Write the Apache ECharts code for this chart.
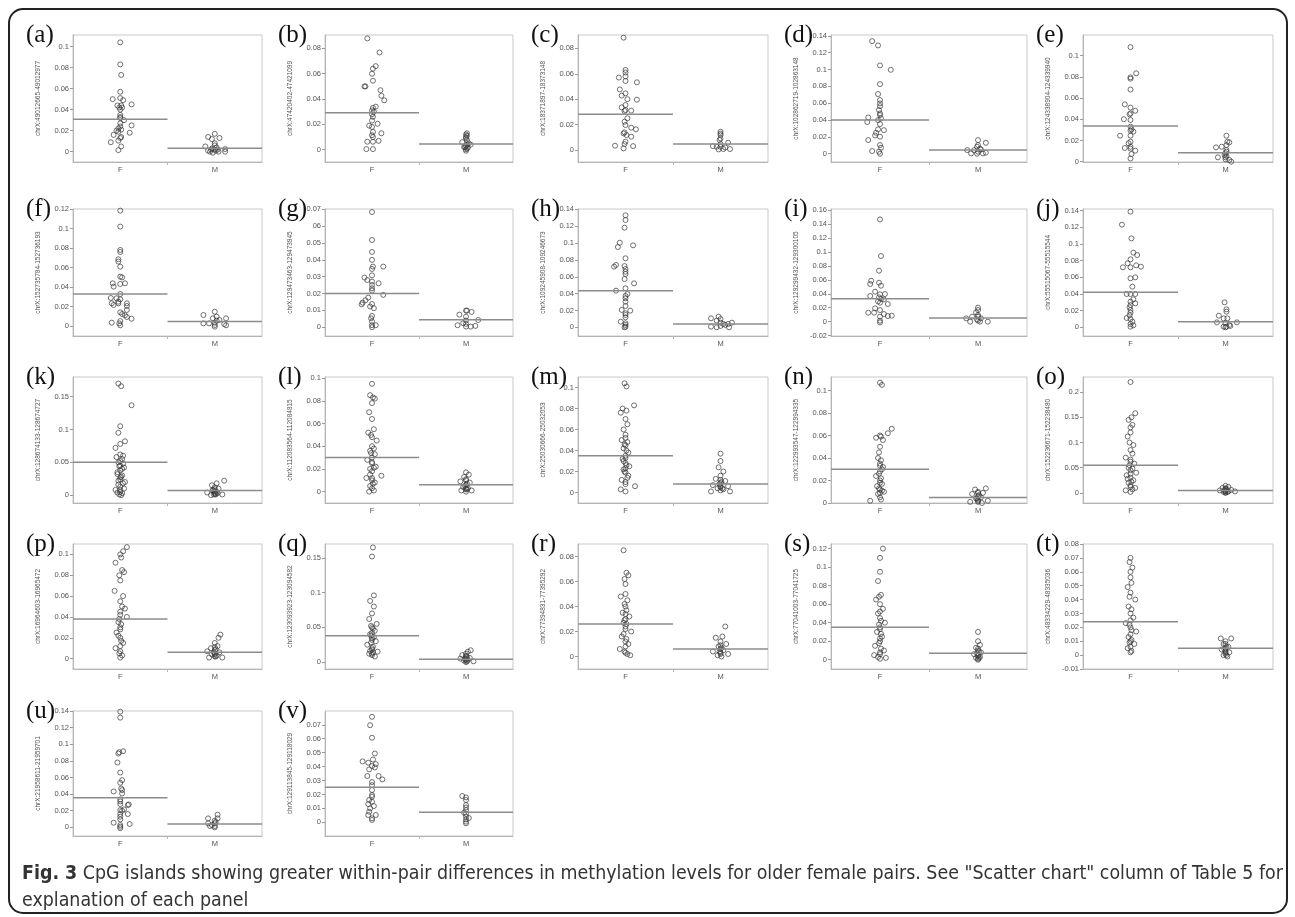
<!DOCTYPE html>
<html><head><meta charset="utf-8">
<script src="https://cdn.jsdelivr.net/npm/echarts@6/dist/echarts.min.js"></script>
<style>html,body{margin:0;padding:0;background:#fff}#c{width:1295px;height:917px}</style>
</head><body><div id="c"></div><script>
const categories = ['F', 'M'];
const panelLabels = ['(a)','(b)','(c)','(d)','(e)','(f)','(g)','(h)','(i)','(j)','(k)','(l)','(m)','(n)','(o)','(p)','(q)','(r)','(s)','(t)','(u)','(v)'];
const yTitles = ['chrX:49012665-49012977','chrX:47420402-47421099','chrX:18371897-18373148','chrX:102862719-102863148','chrX:124338904-124339940',
 'chrX:152735784-152736193','chrX:129473463-129473945','chrX:109245908-109246673','chrX:129299432-129300105','chrX:55515067-55515544',
 'chrX:128674133-128674727','chrX:112083564-112084815','chrX:25030666-25032053','chrX:122993547-122994335','chrX:152236671-152238480',
 'chrX:16964603-16965472','chrX:123093923-123094582','chrX:77394831-77395292','chrX:77041003-77041725','chrX:48334229-48335036',
 'chrX:21958611-21959701','chrX:129113845-129118029'];
const yTicks = [
 [0,0.02,0.04,0.06,0.08,0.1],[0,0.02,0.04,0.06,0.08],[0,0.02,0.04,0.06,0.08],[0,0.02,0.04,0.06,0.08,0.1,0.12,0.14],[0,0.02,0.04,0.06,0.08,0.1,0.12],
 [0,0.02,0.04,0.06,0.08,0.1,0.12],[0,0.01,0.02,0.03,0.04,0.05,0.06,0.07],[0,0.02,0.04,0.06,0.08,0.1,0.12,0.14],[-0.02,0,0.02,0.04,0.06,0.08,0.1,0.12,0.14,0.16],[0,0.02,0.04,0.06,0.08,0.1,0.12,0.14],
 [0,0.05,0.1,0.15],[0,0.02,0.04,0.06,0.08,0.1],[0,0.02,0.04,0.06,0.08,0.1],[0,0.02,0.04,0.06,0.08,0.1],[0,0.05,0.1,0.15,0.2],
 [0,0.02,0.04,0.06,0.08,0.1],[0,0.05,0.1,0.15],[0,0.02,0.04,0.06,0.08],[0,0.02,0.04,0.06,0.08,0.1,0.12],[-0.01,0,0.01,0.02,0.03,0.04,0.05,0.06,0.07,0.08],
 [0,0.02,0.04,0.06,0.08,0.1,0.12,0.14],[-0.01,0,0.01,0.02,0.03,0.04,0.05,0.06,0.07,0.08]];
// tick label text as printed in the figure where it differs from the number
const tickTextOverrides = {6: {'0.06': '06'}};
const yRanges = [
 [-0.0098,0.111],[-0.0097,0.0906],[-0.0094,0.0905],[-0.0098,0.1409],[-0.0003,0.1194],
 [-0.0103,0.1203],[-0.0052,0.0702],[-0.0103,0.1404],[-0.0205,0.1615],[-0.0104,0.142],
 [-0.012,0.18],[-0.01,0.101],[-0.01,0.11],[0,0.112],[-0.02,0.23],
 [-0.01,0.11],[-0.01,0.17],[-0.01,0.09],[-0.01,0.125],[-0.01,0.08],
 [-0.0104,0.14],[-0.0098,0.0799]];
const meanF = [0.0308,0.0292,0.0281,0.040,0.0336,0.0329,0.020,0.0435,0.033,0.042,0.05,0.03,0.035,0.03,0.055,0.038,0.038,0.026,0.035,0.024,0.0356,0.0251];
const meanM = [0.0032,0.0045,0.0047,0.0043,0.0085,0.0045,0.0044,0.004,0.0053,0.0068,0.007,0.006,0.008,0.005,0.005,0.006,0.004,0.006,0.007,0.005,0.004,0.0072];
const femalePts = [
 [[0,.104],[0,.083],[.01,.073],[0,.057],[-.08,.050],[0,.051],[.03,.049],[-.03,.044],[.01,.044],[.12,.045],[-.01,.042],[.02,.042],[0,.040],[0,.035],[0,.033],[0,.032],[.04,.030],[0,.027],[0,.024],[.12,.025],[-.02,.022],[.01,.021],[-.04,.020],[-.02,.019],[.1,.018],[-.07,.016],[.01,.014],[0,.013],[-.02,.0105],[-.1,.009],[.01,.005],[-.02,.0015]],
 [[-.05,.0879],[.08,.0768],[.04,.066],[.01,.064],[0,.060],[.01,.0545],[-.08,.050],[-.07,.050],[.09,.047],[.1,.0426],[.13,.039],[.04,.034],[.01,.033],[0,.031],[.02,.030],[0,.028],[.01,.026],[0,.023],[-.03,.019],[.06,.0205],[0,.018],[.01,.014],[.1,.013],[0,.0115],[.01,.010],[-.05,.0063],[.01,.0063],[.07,.007],[-.06,.0005],[.01,.0005]],
 [[-.02,.0884],[0,.063],[0,.061],[-.07,.057],[0,.058],[0,.0543],[.12,.0533],[-.06,.0477],[0,.0446],[-.04,.0428],[.02,.040],[.12,.0396],[0,.0354],[-.04,.0336],[0,.0315],[-.01,.0307],[.06,.031],[.02,.025],[-.01,.0223],[0,.0197],[.06,.0176],[.11,.0163],[-.01,.0139],[-.02,.0131],[.01,.0118],[.06,.0105],[0,.0066],[-.01,.0047],[-.11,.0034],[.08,.0031],[-.02,.0013]],
 [[-.08,.1336],[-.02,.1285],[0,.1048],[.11,.0996],[0,.0826],[-.02,.0708],[0,.0637],[0,.0597],[0,.0565],[-.01,.0518],[0,.0478],[0,.0459],[-.12,.0431],[-.13,.0376],[-.02,.0399],[.01,.042],[0,.0352],[-.02,.0289],[.04,.028],[-.04,.0249],[-.05,.0217],[0,.0202],[-.12,.0162],[0,.0103],[.01,.0071],[-.08,.0032],[-.01,.0024],[0,0]],
 [[0,.108],[0,.0795],[0,.0782],[.06,.0833],[0,.068],[-.06,.054],[0,.051],[.05,.048],[0,.0455],[-.01,.0446],[-.07,.040],[0,.0393],[0,.033],[.01,.0305],[0,.0292],[.03,.0283],[0,.0245],[-.11,.0245],[0,.0188],[-.02,.0173],[-.06,.0129],[0,.0123],[.05,.0104],[.01,.0072],[0,.003],[0,.0141]],
 [[0,.1186],[0,.1022],[0,.0782],[0,.0761],[-.02,.0686],[-.02,.0662],[0,.061],[0,.0507],[.02,.050],[-.08,.0439],[-.07,.0405],[.05,.0439],[0,.0432],[0,.0329],[-.1,.0288],[-.04,.0285],[0,.0274],[-.02,.025],[-.07,.0216],[-.02,.0233],[.07,.0233],[.07,.0206],[-.09,.0233],[.07,.0165],[0,.0141],[.02,.0123],[.05,.011],[.07,.0093],[.12,.0075],[-.09,.0034],[0,.0051],[0,.0007],[-.01,.0027]],
 [[0,.0684],[0,.0518],[0,.0447],[0,.040],[.01,.036],[0,.0346],[.12,.036],[-.08,.0295],[-.05,.028],[0,.0308],[0,.0271],[.07,.0261],[0,.0251],[0,.0231],[0,.0218],[.12,.0192],[-.04,.0176],[-.07,.016],[-.11,.0136],[-.1,.0146],[0,.0138],[-.02,.0123],[.02,.0113],[0,.0067],[-.01,.0053],[0,.0034],[0,.0012],[.04,.0012],[0,0]],
 [[0,.1329],[0,.1273],[-.01,.1182],[-.06,.1004],[-.08,.0953],[.08,.0973],[0,.0819],[-.12,.072],[-.1,.074],[-.01,.0727],[0,.0692],[0,.066],[0,.0633],[-.01,.0573],[.09,.0522],[-.1,.0435],[0,.0463],[.02,.0395],[0,.0372],[0,.0344],[0,.0304],[0,.0253],[-.04,.0206],[.05,.0198],[0,.0166],[0,.0146],[0,.0119],[-.05,.0067],[0,.0047],[0,.0028],[0,.0008],[-.01,0]],
 [[0,.1466],[.01,.0941],[-.01,.0731],[-.09,.0587],[-.1,.054],[-.01,.0559],[.01,.0516],[-.1,.0368],[-.05,.043],[0,.0392],[.05,.0396],[-.01,.0349],[.01,.0325],[-.02,.0291],[0,.0272],[.08,.0253],[-.05,.0191],[0,.0167],[-.12,.0129],[-.06,.0129],[.04,.011],[.08,.0081],[.12,.0086],[0,.0072],[0,.0014],[0,-.001],[.04,.032]],
 [[0,.1388],[-.09,.1232],[.01,.1068],[.03,.0896],[.07,.0868],[0,.0816],[-.08,.072],[-.03,.0768],[0,.072],[.06,.0744],[.11,.0728],[0,.0588],[.05,.06],[.02,.0488],[-.04,.04],[0,.04],[.05,.04],[.03,.0336],[.05,.0288],[0,.0308],[0,.0268],[-.01,.024],[0,.0208],[0,.0176],[-.01,.0144],[-.04,.0112],[0,.01],[.02,.0068],[0,.004],[0,.0008],[.03,.0024]],
 [[-.02,.170],[.01,.166],[.12,.137],[0,.105],[-.02,.095],[.05,.082],[0,.078],[-.05,.072],[0,.062],[-.04,.058],[.02,.055],[0,.052],[-.02,.050],[.03,.048],[0,.045],[.04,.042],[0,.038],[-.03,.035],[.02,.030],[0,.027],[0,.024],[.05,.02],[-.02,.016],[0,.013],[.04,.01],[-.05,.008],[0,.005],[.02,.003],[-.01,.001],[.03,.06],[-.01,.044],[.02,.04],[-.03,.032],[.01,.028],[-.02,.022],[.03,.018],[0,.008],[-.03,.004],[.01,0]],
 [[0,.095],[-.02,.085],[.03,.082],[0,.078],[-.03,.070],[0,.064],[.02,.055],[-.04,.052],[0,.048],[.05,.045],[0,.040],[-.02,.036],[.03,.033],[0,.030],[-.05,.028],[0,.025],[.04,.022],[-.02,.02],[0,.018],[.1,.014],[-.06,.012],[0,.010],[.03,.008],[-.02,.005],[0,.003],[.02,.001],[-.03,0],[.01,.083],[-.01,.05],[.02,.038],[-.01,.034],[0,.026],[.02,.021],[-.02,.015],[0,.012],[.01,.007]],
 [[-.01,.104],[.01,.101],[.09,.083],[-.03,.080],[-.05,.076],[0,.07],[.02,.065],[-.02,.06],[0,.055],[-.04,.05],[.02,.048],[0,.045],[-.02,.042],[.03,.038],[0,.035],[-.03,.032],[0,.028],[.04,.025],[-.02,.022],[0,.019],[.03,.016],[-.04,.012],[0,.01],[.1,.006],[-.05,.003],[0,.001],[.01,.078],[0,.052],[-.01,.046],[.01,.04],[0,.033],[-.02,.03],[.01,.026],[0,.023],[-.01,.02],[.02,.014],[0,.008]],
 [[0,.107],[.02,.105],[.12,.066],[.08,.062],[0,.06],[-.04,.058],[.03,.056],[0,.05],[-.02,.04],[0,.035],[.03,.032],[0,.028],[-.04,.024],[0,.02],[.02,.017],[-.03,.015],[0,.012],[.04,.01],[-.02,.008],[0,.005],[-.1,.002],[.01,.059],[-.01,.045],[.01,.038],[0,.033],[.02,.03],[-.01,.026],[.01,.022],[0,.018],[-.01,.013],[.02,.011],[0,.009],[.01,.003]],
 [[0,.22],[.05,.158],[-.02,.145],[.02,.135],[0,.12],[-.03,.112],[.03,.095],[0,.085],[-.05,.07],[0,.062],[.04,.058],[-.02,.05],[0,.045],[.06,.04],[-.04,.035],[0,.03],[.03,.025],[-.02,.02],[0,.015],[.05,.01],[-.05,.005],[0,.002],[.01,.15],[0,.13],[-.01,.1],[.02,.078],[0,.066],[-.01,.055],[.02,.048],[0,.038],[-.03,.028],[.01,.022],[0,.012],[.02,.007]],
 [[.07,.107],[.03,.103],[.01,.097],[-.05,.092],[.02,.085],[.04,.083],[0,.075],[-.06,.065],[.03,.06],[0,.055],[.05,.048],[0,.045],[.07,.04],[-.02,.035],[0,.03],[-.04,.025],[0,.02],[.03,.015],[-.05,.01],[0,.007],[.02,.003],[0,.001],[0,.1],[-.01,.08],[.02,.05],[0,.042],[-.01,.038],[.01,.033],[0,.028],[-.02,.022],[.01,.017],[0,.012],[-.01,.005]],
 [[.01,.165],[0,.152],[.02,.096],[-.02,.088],[.02,.08],[0,.07],[-.03,.062],[.05,.055],[0,.05],[.03,.045],[-.02,.04],[0,.035],[.04,.03],[-.05,.025],[0,.02],[.06,.015],[-.03,.012],[0,.01],[.03,.008],[-.01,.052],[.01,.048],[0,.042],[-.01,.038],[.02,.036],[0,.032],[-.01,.028],[.01,.022],[0,.018],[-.02,.016],[.01,.014],[0,.012]],
 [[-.02,.085],[.01,.067],[.03,.065],[-.01,.062],[0,.058],[-.05,.048],[.02,.045],[0,.04],[-.03,.035],[.04,.032],[0,.03],[-.02,.027],[0,.024],[.06,.02],[-.04,.016],[0,.012],[.03,.01],[-.06,.006],[0,.003],[.05,.001],[0,.05],[-.01,.042],[.01,.037],[0,.034],[-.01,.029],[.01,.026],[0,.022],[-.02,.018],[.01,.014],[0,.008],[-.01,.004],[.02,.002]],
 [[.03,.12],[0,.11],[0,.095],[-.02,.085],[.01,.07],[-.04,.065],[0,.06],[.03,.055],[-.02,.05],[0,.045],[.05,.04],[0,.035],[-.03,.03],[.02,.025],[0,.02],[-.05,.015],[.04,.01],[0,.008],[-.06,.005],[.06,.002],[0,.001],[-.01,.068],[0,.052],[.01,.042],[-.01,.038],[0,.033],[.01,.028],[0,.023],[-.01,.018],[.01,.012],[0,.006],[-.02,.003]],
 [[0,.07],[-.01,.067],[.02,.063],[0,.056],[-.03,.049],[0,.045],[.05,.04],[-.02,.035],[0,.03],[.03,.027],[-.05,.023],[0,.02],[.06,.017],[-.02,.013],[0,.01],[.04,.008],[-.03,.005],[0,.002],[0,.06],[.01,.052],[-.01,.042],[.01,.033],[0,.025],[-.01,.022],[.01,.018],[0,.015],[.01,.011],[-.01,.009],[0,.006],[.01,.003]],
 [[0,.1392],[0,.132],[-.01,.0904],[.03,.0916],[-.02,.0888],[-.03,.078],[0,.066],[.02,.0568],[0,.0536],[.01,.0468],[-.07,.0432],[.02,.0448],[.02,.0408],[0,.0336],[0,.0312],[0,.028],[.08,.0268],[.09,.0276],[.04,.0216],[0,.0208],[.02,.02],[0,.016],[.08,.016],[0,.0128],[0,.0096],[-.07,.0056],[.1,.004],[0,.0028],[0,.0008],[0,-.001]],
 [[0,.0757],[-.02,.0697],[0,.0607],[.03,.0494],[-.1,.0437],[-.04,.0428],[.01,.0451],[.04,.0418],[0,.0404],[-.03,.038],[.03,.0394],[-.05,.0332],[.07,.0332],[.11,.0308],[0,.0289],[0,.0267],[0,.0232],[0,.0196],[-.03,.016],[-.04,.0131],[.02,.0117],[-.02,.01],[-.03,.0076],[-.04,.0053],[.04,.0053],[0,.0029],[0,.0017],[0,.0184],[0,.0148]]
];
const malePts = [
 [[0,.017],[-.07,.014],[.05,.013],[-.03,.012],[0,.008],[0,.006],[-.1,.005],[-.03,.003],[0,.002],[.01,.001],[-.07,.001],[.11,.0025],[.11,0],[-.02,-.001],[.04,0],[-.04,.002],[.02,.004],[-.05,0],[.03,.002]],
 [[.01,.013],[.01,.011],[0,.009],[-.04,.006],[.03,.005],[0,.003],[-.01,.002],[.05,.004],[0,.0003],[.02,.0016],[0,-.0008],[.01,.0077],[0,.012],[0,.010],[.01,.004],[-.02,.002],[.01,.001]],
 [[0,.0144],[0,.013],[0,.0118],[0,.0092],[-.01,.0079],[.08,.0058],[-.08,.0031],[-.04,.0026],[0,.0026],[.03,.0008],[.1,.0008],[-.02,.0005],[0,.0047],[.05,.002]],
 [[0,.0162],[.08,.013],[0,.0103],[-.01,.0083],[-.11,.0043],[-.04,.0043],[.03,.005],[0,.0024],[.05,.0004],[.08,.0012],[-.07,.0004],[-.01,0],[.02,.006]],
 [[.01,.0245],[.02,.0188],[-.1,.0135],[-.04,.0141],[.01,.0157],[.04,.0182],[.01,.0094],[.01,.0053],[-.08,.0041],[0,.0041],[0,.0022],[.04,.0016],[.06,0],[.01,.011],[0,.008],[-.01,.0063]],
 [[0,.0147],[-.12,.0113],[.02,.0096],[-.02,.0079],[-.12,.0027],[-.06,.0027],[0,.0034],[0,.001],[.12,.0079],[.05,.0062],[.1,.002],[.12,.0007],[0,-.0007],[.02,.0055]],
 [[0,.0099],[.01,.0099],[.06,.0091],[-.07,.0075],[0,.0063],[0,.004],[.13,.0043],[-.09,.0012],[0,.002],[0,.0004],[.1,.0008],[.05,.0004],[-.03,.0024]],
 [[-.02,.0127],[-.1,.0107],[0,.0099],[-.04,.0079],[0,.0055],[.03,.004],[-.1,.0008],[-.04,0],[0,.0016],[.08,.004],[.12,.0055],[.09,0],[.05,.0028]],
 [[0,.0201],[0,.0167],[-.02,.0134],[-.06,.0072],[-.12,.0048],[0,.0072],[-.08,0],[0,.0014],[.02,0],[.1,0],[.03,.0048],[0,.0096],[-.01,.0033]],
 [[-.01,.03],[.01,.0216],[.01,.0188],[-.07,.014],[-.02,.0108],[.02,.0108],[-.09,.006],[0,.0048],[.04,.0028],[.12,.006],[.01,.0008],[-.02,.0008],[.05,.0016],[0,0]],
 [[.1,.022],[.02,.018],[-.03,.015],[0,.012],[.04,.01],[-.02,.008],[0,.006],[-.08,.004],[.03,.003],[0,.002],[.08,.001],[-.04,0],[.01,.001],[0,.009],[-.02,.007],[.02,.005],[0,.004],[.01,.002],[-.01,.001]],
 [[0,.017],[.03,.015],[-.02,.013],[0,.011],[-.06,.009],[.04,.008],[0,.006],[-.03,.004],[.02,.003],[0,.002],[.06,.001],[-.05,.001],[0,0],[0,.01],[.01,.007],[-.01,.005],[0,.003],[.01,.002]],
 [[0,.037],[0,.03],[-.02,.024],[.03,.02],[0,.016],[-.05,.013],[.05,.011],[0,.009],[-.08,.007],[.08,.006],[0,.005],[-.03,.004],[.03,.003],[0,.002],[-.1,.001],[.1,.001],[0,.012],[.01,.01],[-.01,.008],[0,.006],[.02,.004]],
 [[.08,.013],[-.03,.012],[0,.01],[.05,.009],[-.06,.008],[0,.006],[.03,.005],[-.02,.004],[0,.003],[.1,.002],[-.08,.001],[0,.001],[.04,0],[0,.009],[.01,.007],[-.01,.004],[0,.002]],
 [[0,.014],[.03,.012],[-.03,.01],[0,.008],[.06,.006],[-.06,.005],[0,.004],[.03,.003],[-.02,.002],[0,.001],[.1,.003],[0,.009],[.01,.007],[-.01,.005],[0,.003],[.02,.002],[0,0]],
 [[.06,.023],[.04,.02],[0,.015],[.03,.012],[-.04,.01],[0,.008],[-.08,.007],[.05,.006],[0,.005],[-.03,.004],[.02,.003],[0,.002],[-.06,.001],[.08,.001],[0,.011],[.01,.009],[-.01,.006],[0,.004],[.01,.002]],
 [[.05,.017],[.02,.015],[0,.012],[-.04,.01],[0,.008],[.04,.006],[-.06,.005],[0,.004],[.02,.003],[-.02,.002],[.08,.001],[0,0],[0,.009],[.01,.007],[-.01,.005],[0,.003],[.01,.001]],
 [[.05,.024],[.02,.016],[-.05,.015],[0,.012],[.06,.01],[-.02,.008],[0,.006],[.03,.005],[-.08,.004],[0,.003],[.08,.002],[-.03,.001],[0,.009],[.01,.007],[-.01,.004],[0,.002],[.01,0]],
 [[0,.03],[0,.02],[.02,.016],[-.02,.013],[0,.01],[.03,.008],[-.04,.006],[0,.005],[.02,.003],[-.02,.002],[0,.001],[0,.012],[.01,.009],[-.01,.007],[0,.004],[.01,.002],[0,0]],
 [[-.05,.012],[.06,.012],[0,.01],[-.02,.008],[.03,.006],[0,.005],[-.04,.004],[0,.003],[.04,.002],[0,.001],[-.02,0],[.02,-.001],[0,.008],[.01,.006],[-.01,.004],[0,.002],[.01,0]],
 [[.03,.0152],[-.07,.0108],[.03,.0108],[0,.008],[-.07,.0048],[0,.0048],[-.03,.0028],[0,.0016],[0,0],[-.05,.0016],[.01,.0064]],
 [[-.04,.0189],[0,.0179],[0,.016],[0,.0124],[0,.0107],[0,.0088],[0,.006],[0,.0041],[0,.0021],[0,.0005],[0,-.0007],[.03,.0031],[-.02,.0069]]
];

const colLeft = [73, 325, 578, 831, 1083];
const colRight = [262, 513, 768, 1027, 1273];
const rowTop = [35, 209, 377, 544, 711];
const rowBottom = [162, 336, 503, 669, 836];

const chart = echarts.init(document.getElementById('c'), null, {renderer: 'canvas'});
const grids = [], xAxes = [], yAxes = [], series = [], graphics = [];
const tickFont = 'Liberation Sans, Arial, sans-serif';

panelLabels.forEach((lab, i) => {
  const r = Math.floor(i / 5), c = i % 5;
  const left = colLeft[c], top = rowTop[r];
  const w = colRight[c] - left, h = rowBottom[r] - top;
  const overrides = tickTextOverrides[i] || {};
  const fmt = v => { const s = (+v.toFixed(4)).toString(); return overrides[s] !== undefined ? overrides[s] : s; };
  grids.push({left, top, width: w, height: h, show: true, borderColor: '#c9c9c9', borderWidth: 1, backgroundColor: 'transparent'});
  xAxes.push({
    type: 'value', gridIndex: i, min: 0, max: 2,
    splitLine: {show: false},
    axisLine: {show: true, onZero: false, lineStyle: {color: '#b5b5b5', width: 1}},
    axisTick: {show: true, length: 3, inside: false, customValues: [1], lineStyle: {color: '#b5b5b5'}},
    axisLabel: {show: true, customValues: [0.5, 1.5], formatter: v => categories[v < 1 ? 0 : 1],
      fontSize: 7.5, color: '#555', margin: 4, fontFamily: tickFont}
  });
  const ticks = yTicks[i];
  yAxes.push({
    type: 'value', gridIndex: i, min: yRanges[i][0], max: yRanges[i][1],
    splitLine: {show: false},
    axisLine: {show: true, onZero: false, lineStyle: {color: '#b5b5b5', width: 1}},
    axisTick: {show: true, length: 3, customValues: ticks, lineStyle: {color: '#9a9a9a'}},
    axisLabel: {show: true, customValues: ticks, formatter: fmt, fontSize: 7.5, color: '#555', margin: 4, fontFamily: tickFont},
    name: yTitles[i], nameLocation: 'middle', nameRotate: 90, nameGap: 31,
    nameTextStyle: {fontSize: 6.5, color: '#555', fontFamily: tickFont}
  });
  const sym = {symbol: 'circle', symbolSize: 5, itemStyle: {color: 'rgba(0,0,0,0)', borderColor: '#3a3a3a', borderWidth: 0.9}};
  series.push(Object.assign({type: 'scatter', xAxisIndex: i, yAxisIndex: i, silent: true, animation: false,
    data: femalePts[i].map(p => [0.5 + p[0], p[1]])}, sym));
  series.push(Object.assign({type: 'scatter', xAxisIndex: i, yAxisIndex: i, silent: true, animation: false,
    data: malePts[i].map(p => [1.5 + p[0], p[1]])}, sym));
  series.push({type: 'line', xAxisIndex: i, yAxisIndex: i, silent: true, animation: false, showSymbol: false, symbol: 'none',
    lineStyle: {color: '#8c8c8c', width: 1.5}, data: [[0, meanF[i]], [1, meanF[i]]]});
  series.push({type: 'line', xAxisIndex: i, yAxisIndex: i, silent: true, animation: false, showSymbol: false, symbol: 'none',
    lineStyle: {color: '#8c8c8c', width: 1.5}, data: [[1, meanM[i]], [2, meanM[i]]]});
  graphics.push({type: 'text', left: left - 47, top: top - 12, silent: true,
    style: {text: lab, font: '25px "Liberation Serif", "Times New Roman", serif', fill: '#111'}});
});

graphics.push({type: 'rect', shape: {x: 9, y: 9, width: 1278, height: 904, r: 14}, silent: true,
  style: {fill: 'none', stroke: '#222', lineWidth: 2}});
const capFont = '"DejaVu Sans Condensed", "Liberation Sans Narrow", sans-serif';
graphics.push({type: 'text', left: 22, top: 860, silent: true,
  style: {text: '{b|Fig. 3} CpG islands showing greater within-pair differences in methylation levels for older female pairs. See "Scatter chart" column of Table 5 for\nexplanation of each panel',
    font: '19.4px ' + capFont, fill: '#333', lineHeight: 27,
    rich: {b: {font: 'bold 19.4px ' + capFont, fill: '#333'}}}});

chart.setOption({
  backgroundColor: '#fff', animation: false,
  grid: grids, xAxis: xAxes, yAxis: yAxes, series, graphic: graphics
});
</script></body></html>
